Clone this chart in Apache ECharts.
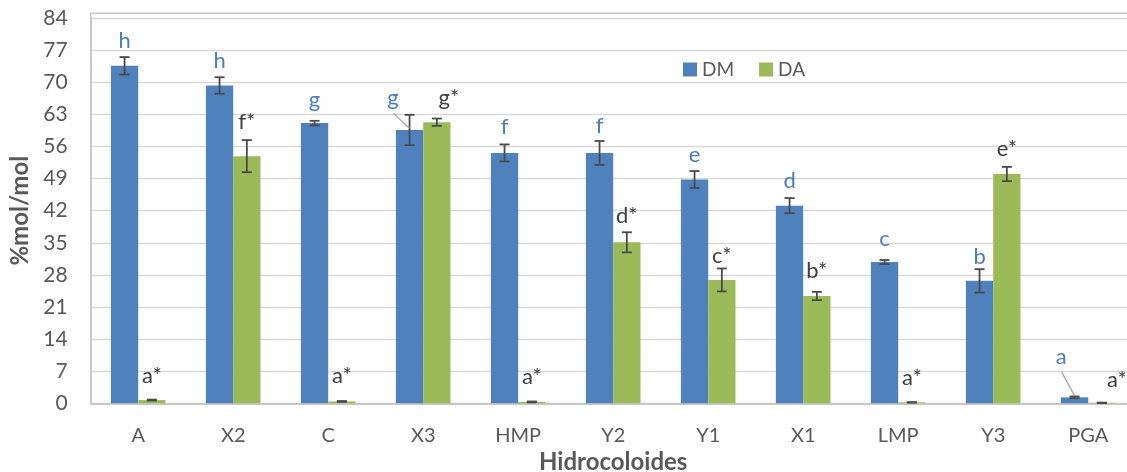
<!DOCTYPE html>
<html><head><meta charset="utf-8">
<script src="https://cdn.jsdelivr.net/npm/echarts/dist/echarts.min.js"></script>
<style>html,body{margin:0;padding:0;background:#fff}#c{width:1127px;height:472px}</style>
</head><body><div id="c"></div>
<script>
// ---------- data ----------
const categories = ['A','X2','C','X3','HMP','Y2','Y1','X1','LMP','Y3','PGA'];
const dmValues  = [73.6, 69.3, 61.1, 59.6, 54.6, 54.6, 48.8, 43.1, 30.8, 26.7, 1.3];
const dmErrors  = [1.9, 1.8, 0.5, 3.3, 1.85, 2.6, 1.85, 1.65, 0.45, 2.55, 0.2];
const daValues  = [0.7, 53.9, 0.4, 61.3, 0.3, 35.1, 26.9, 23.4, 0.2, 50.0, 0.1];
const daErrors  = [0.1, 3.5, 0.1, 0.8, 0.1, 2.2, 2.5, 0.9, 0.05, 1.55, 0.05];
const dmLetters = ['h','h','g','g','f','f','e','d','c','b','a'];
const daLetters = ['a*','f*','a*','g*','a*','d*','c*','b*','a*','e*','a*'];
const yMin = 0, yMax = 84, yStep = 7;
const seriesNames = ['DM','DA'];
const xTitle = 'Hidrocoloides';
const yTitle = '%mol/mol';

// ---------- layout / style ----------
const FONT = 'Lato, "Open Sans", sans-serif';
const BLUE = '#4F81BD', GREEN = '#9BBB59';
const DM_TEXT = '#4A7EC0', DA_TEXT = '#404040', AXIS_TEXT = '#595959';
const BAR_W = 27.3;
const labelStyle = {
  dm: { gap: [16,16,21,17,18,15,16,17,21,12,40], dx: [0,0,0,-16.5,0,0,0,0,0,0,-13.4], leader: [3,10] },
  da: { gap: [24,18,25,21,25,16,13,21,24,18,23], dx: [0,0,0,12,0,0,0,0,0,0,15], leader: [] }
};

function errSeries(name, values, errors, letters, side, color, ls) {
  return {
    type: 'custom', name: name + '_err', z: 10, clip: false,
    data: values.map((v, i) => [i, v, errors[i]]),
    encode: { x: 0, y: 1 },
    renderItem: function (params, api) {
      const i = api.value(0), v = api.value(1), e = api.value(2);
      const c = api.coord([i, v]);
      const x = c[0] + side * BAR_W / 2;
      const yTop = api.coord([i, v + e])[1];
      const yBot = api.coord([i, Math.max(0, v - e)])[1];
      const ls2 = { stroke: '#4A4A4A', lineWidth: 1.8 };
      const children = [
        { type: 'line', shape: { x1: x, y1: yTop, x2: x, y2: yBot }, style: ls2 },
        { type: 'line', shape: { x1: x - 5, y1: yTop, x2: x + 5, y2: yTop }, style: ls2 },
        { type: 'line', shape: { x1: x - 5, y1: yBot, x2: x + 5, y2: yBot }, style: ls2 }
      ];
      const lx = x + ls.dx[i], ly = yTop - ls.gap[i];
      children.push({ type: 'text', style: { text: letters[i], x: lx, y: ly, fill: color,
        fontSize: 22, fontFamily: FONT, align: 'center', verticalAlign: 'middle' } });
      if (ls.leader.indexOf(i) >= 0) {
        children.push({ type: 'line', shape: { x1: lx + 0.5, y1: ly + 15.5, x2: x, y2: c[1] - 1.5 },
          style: { stroke: '#A6A6A6', lineWidth: 1.3 } });
      }
      return { type: 'group', children: children };
    }
  };
}

const chart = echarts.init(document.getElementById('c'), null, { renderer: 'canvas' });
chart.setOption({
  animation: false,
  backgroundColor: '#fff',
  grid: { left: 90.7, top: 18.1, width: 1045, height: 385.2, outerBoundsMode: 'none', containLabel: false },
  legend: {
    data: seriesNames, left: 678, top: 55, itemWidth: 14, itemHeight: 14, itemGap: 25,
    icon: 'rect', textStyle: { fontSize: 19, fontFamily: FONT, color: AXIS_TEXT }
  },
  graphic: [
    { type: 'polyline', shape: { points: [[90.7, 20], [90.7, 13.3], [1127, 13.3]] },
      style: { stroke: '#C8C8C8', lineWidth: 1.5, fill: null }, z: 5 }
  ],
  xAxis: {
    type: 'category', data: categories,
    name: xTitle, nameLocation: 'middle', nameGap: 57,
    nameTextStyle: { fontSize: 24, fontWeight: 'bold', fontFamily: FONT, color: AXIS_TEXT, verticalAlign: 'middle' },
    axisLine: { lineStyle: { color: '#C8C8C8', width: 2 } },
    axisTick: { show: false },
    axisLabel: { fontSize: 20, fontFamily: FONT, color: AXIS_TEXT, margin: 22 }
  },
  yAxis: {
    type: 'value', min: yMin, max: yMax, interval: yStep,
    name: yTitle, nameLocation: 'middle', nameGap: 58,
    nameTextStyle: { fontSize: 24, fontWeight: 'bold', fontFamily: FONT, color: AXIS_TEXT },
    axisLine: { show: true, lineStyle: { color: '#C8C8C8', width: 2 } },
    axisTick: { show: false },
    splitLine: { lineStyle: { color: '#D9D9D9', width: 1.4 } },
    axisLabel: { fontSize: 21, fontFamily: FONT, color: AXIS_TEXT, margin: 23 }
  },
  series: [
    { name: seriesNames[0], type: 'bar', data: dmValues, barWidth: BAR_W, barGap: '0%', itemStyle: { color: BLUE } },
    { name: seriesNames[1], type: 'bar', data: daValues, barWidth: BAR_W, barGap: '0%', itemStyle: { color: GREEN } },
    errSeries('DM', dmValues, dmErrors, dmLetters, -1, DM_TEXT, labelStyle.dm),
    errSeries('DA', daValues, daErrors, daLetters, 1, DA_TEXT, labelStyle.da)
  ]
});
</script>
</body></html>
